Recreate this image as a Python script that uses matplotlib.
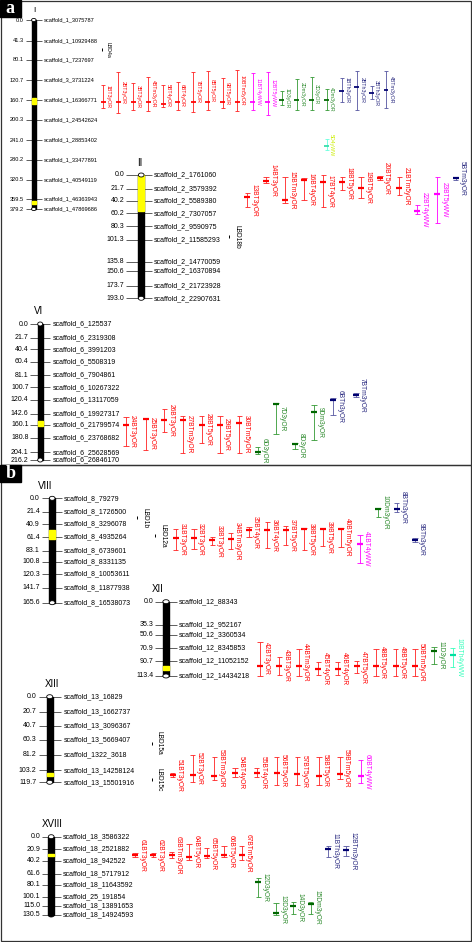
import matplotlib.pyplot as plt
from matplotlib.patches import Rectangle, Ellipse

plt.rcParams['font.family'] = ['Liberation Sans', 'DejaVu Sans']

W, H = 472, 942

# ---------------- data ----------------
# chromosome I
c1_cm = [0.0, 41.3, 80.1, 120.7, 160.7, 200.3, 241.0, 280.2, 320.5, 359.5, 379.2]
c1_scaf = ['scaffold_1_3075787', 'scaffold_1_10929488', 'scaffold_1_7237697', 'scaffold_3_3731224',
           'scaffold_1_16366771', 'scaffold_1_24542624', 'scaffold_1_28853402', 'scaffold_1_33477891',
           'scaffold_1_40549119', 'scaffold_1_46363943', 'scaffold_1_47869686']
c1_yel = [(156.5, 168.5), (363.5, 368.5)]
c1_qtl = ['1BT3yOR', '2BT3yOR', '3BT3yOR', '4BTm3yOR', '5BT4yOR', '6BT4yOR', '7BT5yOR', '8BT5yOR',
          '9BT5yOR', '10BTm5yOR', '11BT4yWW', '12BT5yWW', '1D3yOR', '2Dm3yOR', '3D3yOR', '4Dm3yOR',
          '1BTh3yOR', '2BTh3yOR', '3BTh3yOR', '4BTm3yOR', '5D4yWW']
c1_lo = [130.4, 103.7, 127.0, 115.0, 130.4, 123.8, 103.7, 101.7, 117.0, 100.3, 107.0, 103.7,
         141.8, 119.0, 115.0, 139.0, 117.0, 101.7, 132.4, 101.7, 239.3]
c1_pk = [163.9, 163.9, 163.9, 163.9, 168.0, 165.0, 164.5, 163.9, 163.9, 163.9, 163.9, 163.9,
         160.5, 160.5, 160.5, 160.5, 141.8, 133.8, 145.8, 140.4, 252.8]
c1_hi = [177.1, 187.2, 180.5, 182.5, 173.9, 180.5, 184.0, 180.5, 177.0, 182.0, 180.5, 190.6,
         170.5, 180.5, 180.5, 180.5, 163.9, 180.5, 159.0, 177.0, 260.8]
c1_grp = ['r'] * 10 + ['m'] * 2 + ['g'] * 4 + ['n'] * 4 + ['y']
c1_lbd = ['LBD4a']
c1_lbd_cm = [60.0]

# chromosome II
c2_cm = [0.0, 21.7, 40.2, 60.2, 80.3, 101.3, 135.8, 150.6, 173.7, 193.0]
c2_scaf = ['scaffold_2_1761060', 'scaffold_2_3579392', 'scaffold_2_5589380', 'scaffold_2_7307057',
           'scaffold_2_9590975', 'scaffold_2_11585293', 'scaffold_2_14770059', 'scaffold_2_16370894',
           'scaffold_2_21723928', 'scaffold_2_22907631']
c2_yel = [(0.0, 57.0)]
c2_qtl = ['13BT3yOR', '14BT3yOR', '15BTm3yOR', '16BT4yOR', '17BT4yOR', '18BT5yOR', '19BT5yOR',
          '20BT5yOR', '21BTm5yOR', '22BT4yWW', '23BT5yWW', '5BTm3yOR']
c2_lo = [28.6, 2.7, 2.7, 5.2, 0.0, 3.6, 3.6, 1.6, 2.7, 46.9, 2.7, 2.7]
c2_pk = [34.0, 8.9, 39.1, 7.8, 11.4, 11.4, 20.8, 5.2, 20.8, 55.9, 29.7, 5.2]
c2_hi = [50.6, 13.0, 44.3, 39.1, 50.6, 23.5, 36.5, 7.8, 31.3, 61.5, 74.6, 7.8]
c2_grp = ['r'] * 9 + ['m'] * 2 + ['n']
c2_lbd = ['LBD18b']
c2_lbd_cm = [96.5]

# chromosome VI
c6_cm = [0.0, 21.7, 40.4, 60.4, 81.1, 100.7, 120.4, 142.6, 160.1, 180.8, 204.1, 216.2]
c6_scaf = ['scaffold_6_125537', 'scaffold_6_2319308', 'scaffold_6_3991203', 'scaffold_6_5508319',
           'scaffold_6_7904861', 'scaffold_6_10267322', 'scaffold_6_13117059', 'scaffold_6_19927317',
           'scaffold_6_21799574', 'scaffold_6_23768682', 'scaffold_6_25628569', 'scaffold_6_26846170']
c6_yel = [(154.0, 162.0)]
c6_qtl = ['24BT3yOR', '25BT3yOR', '26BT3yOR', '27BTm3yOR', '28BT5yOR', '29BT5yOR', '30BTm5yOR',
          '6D3yOR', '7D3yOR', '8D3yOR', '9Dm3yOR', '6BTh3yOR', '7BTm3yOR']
c6_lo = [147.8, 149.4, 135.1, 146.3, 146.3, 146.3, 145.8, 195.0, 125.1, 188.7, 128.8, 117.6, 109.7]
c6_pk = [160.6, 151.8, 152.6, 152.6, 160.6, 160.6, 157.9, 203.0, 127.2, 190.5, 139.9, 120.8, 112.9]
c6_hi = [194.0, 200.0, 171.2, 204.6, 189.7, 204.6, 204.6, 207.2, 174.9, 198.7, 184.4, 144.7, 116.0]
c6_grp = ['r'] * 7 + ['g'] * 4 + ['n'] * 2

# chromosome VIII
c8_cm = [0.0, 21.4, 40.9, 61.4, 83.1, 100.8, 120.3, 141.7, 165.6]
c8_scaf = ['scaffold_8_79279', 'scaffold_8_1726500', 'scaffold_8_3296078', 'scaffold_8_4935264',
           'scaffold_8_6739601', 'scaffold_8_8331135', 'scaffold_8_10053611', 'scaffold_8_11877938',
           'scaffold_8_16538073']
c8_yel = [(49.5, 65.0)]
c8_qtl = ['31BT3yOR', '32BT3yOR', '33BT3yOR', '34BTm3yOR', '35BT4yOR', '36BT4yOR', '37BT5yOR',
          '38BT5yOR', '39BT5yOR', '40BTm5yOR', '41BT4yWW', '10Dm3yOR', '8BTh3yOR', '9BTh3yOR']
c8_lo = [49.2, 49.2, 61.9, 54.6, 45.1, 37.1, 44.0, 47.6, 47.6, 47.6, 58.3, 14.9, 7.9, 62.5]
c8_pk = [63.5, 62.5, 66.2, 64.6, 50.3, 50.3, 50.3, 48.7, 48.7, 48.7, 73.0, 17.0, 17.0, 66.2]
c8_hi = [82.1, 81.0, 74.1, 81.0, 61.9, 79.4, 74.1, 82.1, 75.7, 76.8, 103.2, 29.2, 21.3, 68.9]
c8_grp = ['r'] * 10 + ['m', 'g', 'n', 'n']
c8_lbd = ['LBD1b', 'LBD12a']
c8_lbd_cm = [31.0, 59.0]

# chromosome XII
c12_cm = [0.0, 35.3, 50.6, 70.9, 90.7, 113.4]
c12_scaf = ['scaffold_12_88343', 'scaffold_12_952167', 'scaffold_12_3360534', 'scaffold_12_8345853',
            'scaffold_12_11052152', 'scaffold_12_14434218']
c12_yel = [(97.5, 104.5)]
c12_qtl = ['42BT3yOR', '43BT3yOR', '44BTm3yOR', '45BT4yOR', '46BT4yOR', '47BT5yOR', '48BT5yOR',
           '49BT5yOR', '50BTm5yOR', '11D3yOR', '10BTh4yWW']
c12_lo = [61.1, 84.0, 72.7, 92.5, 92.5, 90.1, 72.7, 72.7, 72.7, 68.7, 71.1]
c12_pk = [97.7, 97.7, 97.7, 103.2, 103.2, 97.7, 97.7, 97.7, 97.7, 74.8, 81.4]
c12_hi = [113.4, 111.9, 113.4, 111.9, 111.9, 109.3, 113.4, 113.4, 113.4, 95.1, 99.2]
c12_grp = ['r'] * 9 + ['g', 'c']

# chromosome XIII
c13_cm = [0.0, 20.7, 40.7, 60.3, 81.2, 103.2, 119.7]
c13_scaf = ['scaffold_13_16829', 'scaffold_13_1662737', 'scaffold_13_3096367', 'scaffold_13_5669407',
            'scaffold_1322_3618', 'scaffold_13_14258124', 'scaffold_13_15501916']
c13_yel = [(107.0, 111.0)]
c13_qtl = ['51BT3yOR', '52BT3yOR', '53BTm3yOR', '54BT4yOR', '55BT4yOR', '56BT5yOR', '57BT5yOR',
           '58BT5yOR', '59BTm5yOR', '60BT4yWW']
c13_lo = [107.1, 81.5, 84.8, 100.1, 100.1, 83.9, 84.8, 83.9, 83.9, 88.5]
c13_pk = [109.9, 109.5, 110.5, 107.1, 107.1, 107.1, 108.1, 110.5, 108.1, 110.5]
c13_hi = [112.7, 118.9, 116.5, 111.9, 112.7, 123.5, 123.5, 123.5, 115.5, 121.1]
c13_grp = ['r'] * 9 + ['m']
c13_lbd = ['LBD15a', 'LBD15c']
c13_lbd_cm = [64.8, 116.5]

# chromosome XVIII
c18_cm = [0.0, 20.9, 40.2, 61.6, 80.1, 100.1, 115.0, 130.5]
c18_scaf = ['scaffold_18_3586322', 'scaffold_18_2521882', 'scaffold_18_942522', 'scaffold_18_5717912',
            'scaffold_18_11643592', 'scaffold_25_191854', 'scaffold_18_13891653', 'scaffold_18_14924593']
c18_yel = [(29.4, 32.2)]
c18_qtl = ['61BT3yOR', '62BT3yOR', '63BTm3yOR', '64BT5yOR', '65BT5yOR', '66BT5yOR', '67BTm5yOR',
           '12D3yOR', '13D3yOR', '14D3yOR', '15Dm3yOR', '11BTh3yOR', '12BTm3yOR']
c18_lo = [26.7, 26.7, 25.0, 12.2, 19.3, 15.5, 15.5, 69.3, 111.0, 108.3, 108.3, 15.5, 15.5]
c18_pk = [30.5, 30.5, 30.5, 33.3, 31.7, 30.5, 30.5, 75.0, 126.7, 115.5, 112.2, 21.0, 22.2]
c18_hi = [34.3, 34.3, 36.0, 38.8, 36.0, 33.3, 38.8, 100.0, 130.5, 128.8, 128.8, 33.3, 32.2]
c18_grp = ['r'] * 7 + ['g'] * 4 + ['n'] * 2

# ---------------- layout (pixels) ----------------
c1_qx = [103.3, 118.3, 133.3, 148.3, 163.3, 177.7, 193.3, 207.7, 222.7, 237.3, 252.7, 267.7,
         281.7, 296.7, 311.7, 326.7, 341.7, 356.7, 371.7, 386.0, 326.7]
c2_qx = [247.3, 266, 285, 304, 323.3, 342.3, 361, 380, 399.3, 417.3, 437.3, 455.7]
c6_qx = [126, 145.7, 164.3, 182.7, 201.7, 220, 239.3, 257.7, 276, 295, 314, 333, 356]
c8_qx = [175.7, 194, 212.3, 230.7, 249, 267.3, 285.7, 304.3, 322.7, 341, 360, 378.3, 396.7, 415]
c12_qx = [260, 279.3, 299, 318.3, 337.7, 356.7, 376, 395.7, 415, 434, 452.7]
c13_qx = [172.7, 192.7, 214.3, 235, 256.7, 276.7, 297.3, 319, 340, 360.7]
c18_qx = [135, 153.3, 171.7, 189, 206.7, 224, 241.7, 258.3, 276, 293.3, 310.7, 328.3, 346]

# group -> (bar colour, peak colour, text colour)
colors = {
    'r': ('#ff2020', '#ff0000', '#ff0000'),
    'm': ('#ff00ff', '#ff00ff', '#ff00ff'),
    'g': ('#339933', '#006600', '#2e8b2e'),
    'n': ('#5555a0', '#000070', '#2a2a80'),
    'c': ('#33ffbb', '#00e0a0', '#33ffbb'),
    'y': ('#66ffdd', '#33ddaa', '#ccee00'),
}

fig = plt.figure(figsize=(W / 100, H / 100), dpi=100)

# background axes in pixels for frames and panel letters
bg = fig.add_axes([0, 0, 1, 1])
bg.set_xlim(0, W)
bg.set_ylim(H, 0)
bg.axis('off')
bg.add_patch(Rectangle((0.5, 0.5), 470, 464.5, fill=False, ec='#333333', lw=0.9))
bg.add_patch(Rectangle((0.5, 465), 470, 475.5, fill=False, ec='#333333', lw=0.9))
for lab, y0 in [('a', 0), ('b', 465)]:
    bg.add_patch(Rectangle((0, y0), 20.7, 16.5, color='black'))
    bg.text(10.3, y0 + 8.5, lab, color='white', fontsize=13, fontweight='bold',
            family='Liberation Serif', ha='center', va='center')


def draw_chrom(title, title_x, cx, ytop, scale, cms, scafs, yel, width, lx, rx, tl, tr,
               fs=5.0, qfs=4.8, k=1.0, tfs=7.0, qtl=(), lo=(), pk=(), hi=(), grp=(), qx=(),
               lbd=(), lbd_cm=(), lbd_x=(), round_bottom=False):
    length = cms[-1]
    h = scale * length
    ax = fig.add_axes([0, 1 - (ytop + h) / H, 1, h / H])
    ax.set_xlim(0, W)
    ax.set_ylim(length, 0)
    ax.axis('off')
    px = 1.0 / scale  # one pixel in cM

    ax.text(title_x, -12.5 * k * px, title, ha='center', va='center', fontsize=tfs)

    # marker ticks and labels
    ax.hlines(cms, cx - tl, cx + tr, color='#444444', lw=0.6, zorder=1, clip_on=False)
    for c, s in zip(cms, scafs):
        ax.text(cx - lx, c, f'{c:.1f}', ha='right', va='center', fontsize=fs)
        ax.text(cx + rx, c, s, ha='left', va='center', fontsize=fs)

    # chromosome body
    ax.add_patch(Rectangle((cx - width / 2, 0), width, length, color='black', zorder=2, clip_on=False))
    for a, b in yel:
        ax.add_patch(Rectangle((cx - width / 2, a), width, b - a, color='#ffff00', zorder=3,
                               clip_on=False))
    ax.add_patch(Ellipse((cx, 0), width, 4 * k * px, fc='white', ec='black', lw=0.6, zorder=4,
                         clip_on=False))
    if round_bottom:
        ax.add_patch(Ellipse((cx, length), width, 4 * px, fc='black', ec='black', lw=0.6, zorder=4,
                             clip_on=False))
    else:
        ax.add_patch(Ellipse((cx, length), width, 4 * k * px, fc='white', ec='black', lw=0.6,
                             zorder=4, clip_on=False))

    # QTL intervals
    cw = 5.5 * k
    pw = 6.0 * k
    for name, a, p, b, g, x in zip(qtl, lo, pk, hi, grp, qx):
        bc, pc, tc = colors[g]
        ax.vlines(x, a, b, color=bc, lw=0.6, clip_on=False)
        ax.hlines([a, b], x - cw / 2, x + cw / 2, color=bc, lw=0.6, clip_on=False)
        ax.hlines(p, x - pw / 2, x + pw / 2, color=pc, lw=1.6 * k, clip_on=False)
        ax.text(x + 3.2 * k, (a + b) / 2, name, rotation=-90, ha='left', va='center',
                color=tc, fontsize=qfs)

    # LBD genes
    for name, c, x in zip(lbd, lbd_cm, lbd_x):
        ax.vlines(x, c - 1.5 * px, c + 1.5 * px, color='black', lw=0.7, clip_on=False)
        ax.text(x + 7.5 * k, c, name, rotation=-90, ha='center', va='center', fontsize=qfs)


draw_chrom('I', 34, 33.8, 20, 189 / 379.2, c1_cm, c1_scaf, c1_yel, 4.5, 9.8, 10.2, 7.5, 8.0,
           fs=4.1, qfs=3.8, k=0.79, tfs=6.0, qtl=c1_qtl, lo=c1_lo, pk=c1_pk, hi=c1_hi, grp=c1_grp,
           qx=c1_qx, lbd=c1_lbd, lbd_cm=c1_lbd_cm, lbd_x=[102])
draw_chrom('II', 139.7, 141.2, 175, 123.3 / 193, c2_cm, c2_scaf, c2_yel, 5.7, 17, 12.8, 15, 10.5,
           qtl=c2_qtl, lo=c2_lo, pk=c2_pk, hi=c2_hi, grp=c2_grp, qx=c2_qx,
           lbd=c2_lbd, lbd_cm=c2_lbd_cm, lbd_x=[229])
draw_chrom('VI', 38.8, 40.2, 324, 136 / 216.2, c6_cm, c6_scaf, c6_yel, 5.0, 11.7, 12.7, 10, 10,
           qtl=c6_qtl, lo=c6_lo, pk=c6_pk, hi=c6_hi, grp=c6_grp, qx=c6_qx)
draw_chrom('VIII', 44.7, 52.2, 498.3, 104.4 / 165.6, c8_cm, c8_scaf, c8_yel, 5.7, 12.3, 12, 10.5, 10,
           qtl=c8_qtl, lo=c8_lo, pk=c8_pk, hi=c8_hi, grp=c8_grp, qx=c8_qx,
           lbd=c8_lbd, lbd_cm=c8_lbd_cm, lbd_x=[137.3, 155])
draw_chrom('XII', 157.8, 166, 601.7, 0.655, c12_cm, c12_scaf, c12_yel, 6.3, 12.7, 13, 11, 11,
           qtl=c12_qtl, lo=c12_lo, pk=c12_pk, hi=c12_hi, grp=c12_grp, qx=c12_qx)
draw_chrom('XIII', 51.7, 49.7, 696.7, 0.715, c13_cm, c13_scaf, c13_yel, 6.0, 13, 13.7, 11, 11.5,
           qtl=c13_qtl, lo=c13_lo, pk=c13_pk, hi=c13_hi, grp=c13_grp, qx=c13_qx,
           lbd=c13_lbd, lbd_cm=c13_lbd_cm, lbd_x=[151.7, 151.7])
draw_chrom('XVIII', 52.3, 51.2, 836.7, 0.6, c18_cm, c18_scaf, c18_yel, 5.7, 11, 11.3, 9.5, 9.5,
           qtl=c18_qtl, lo=c18_lo, pk=c18_pk, hi=c18_hi, grp=c18_grp, qx=c18_qx,
           round_bottom=True)

fig.savefig('out.png', dpi=100)
